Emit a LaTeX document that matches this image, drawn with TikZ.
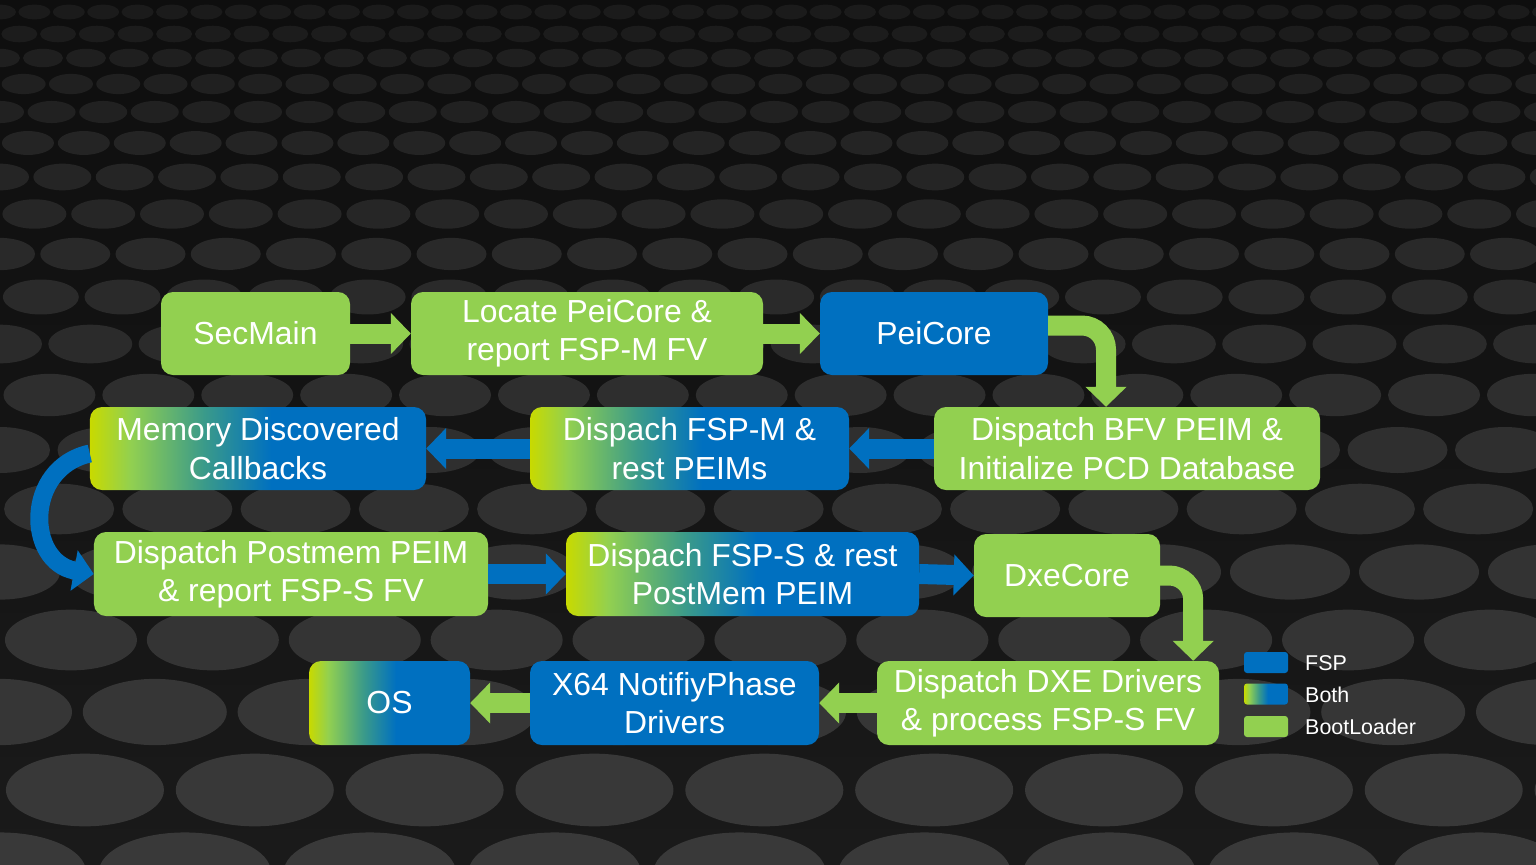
\documentclass[tikz,border=0pt]{standalone}
\usepackage{fontspec}
\setmainfont{Liberation Sans}
\usetikzlibrary{arrows.meta}
\definecolor{fspblue}{HTML}{0070C0}
\definecolor{blgreen}{HTML}{92D050}
\definecolor{ygreen}{HTML}{C8DA00}
\definecolor{tealmix}{HTML}{3A9A8A}
\definecolor{bgtop}{HTML}{0E0E0E}
\definecolor{bgbot}{HTML}{1A1A1A}
\pgfdeclarehorizontalshading{both}{100bp}{color(0bp)=(ygreen); color(25bp)=(ygreen); color(31bp)=(blgreen); color(42bp)=(tealmix); color(52bp)=(fspblue); color(100bp)=(fspblue)}
\tikzset{
  box/.style={rounded corners=12bp, minimum height=83bp, text=white, align=center, inner sep=0pt, font=\fontsize{32}{38.5}\selectfont},
  fspbox/.style={box, fill=fspblue},
  bootbox/.style={box, fill=blgreen},
  bothbox/.style={box, shading=both},
  legsq/.style={rounded corners=3bp, minimum width=44bp, minimum height=21bp, inner sep=0pt},
  legtxt/.style={anchor=west, text=white, inner sep=0pt, font=\fontsize{21.5}{24}\selectfont},
  garrow/.style={draw=blgreen, line width=20bp, -{Triangle[length=20bp 0 0, width=40bp 0 0]}},
  barrow/.style={draw=fspblue, line width=20bp, -{Triangle[length=20bp 0 0, width=40bp 0 0]}}
}
\begin{document}
\begin{tikzpicture}[x=1bp,y=-1bp]
\useasboundingbox (0,0) rectangle (1536,864);
% background
\fill[top color=bgtop, bottom color=bgbot] (0,0) rectangle (1536,864);
\begin{scope}
\clip (0,0) rectangle (1536,864);
\foreach \yy/\rr [count=\i] in {12/16,34/18,58/20,84/22,112/24,143/26,177/29,214/32,254/35,297/38,344/42,395/46,450/50,509/55,572/60,640/66,712/72,790/79,872/86}{
  \pgfmathsetmacro\dx{2.15*\rr}
  \pgfmathtruncatemacro\nn{1536/\dx+2}
  \pgfmathtruncatemacro\gg{20+\i*1.35}
  \pgfmathsetmacro\off{mod(\i,2)*\dx/2}
  \foreach \k in {0,...,\nn}{
    \fill[gray!\gg!black] (\k*\dx+\off-\dx/2,\yy) ellipse [x radius=\rr, y radius=0.46*\rr];
  }
}
\end{scope}
% nodes
\node[bootbox, minimum width=189bp] (sec) at (255.5,333.5) {SecMain};
\node[bootbox, minimum width=352bp] (loc) at (587,333.5) {Locate PeiCore \&\\report FSP-M FV};
\node[fspbox, minimum width=228bp] (pei) at (934,333.5) {PeiCore};
\node[bootbox, minimum width=386bp] (bfv) at (1127,448.5) {Dispatch BFV PEIM \&\\Initialize PCD Database};
\node[bothbox, minimum width=319bp] (fspm) at (689.5,448.5) {Dispach FSP-M \&\\rest PEIMs};
\node[bothbox, minimum width=336bp] (mdc) at (258,448.5) {Memory Discovered\\Callbacks};
\node[bootbox, minimum width=394bp, minimum height=84bp] (pm) at (291,574) {Dispatch Postmem PEIM\\\& report FSP-S FV};
\node[bothbox, minimum width=353bp, minimum height=84bp] (fsps) at (742.5,574) {Dispach FSP-S \& rest\\PostMem PEIM};
\node[bootbox, minimum width=186bp] (dxe) at (1067,575.5) {DxeCore};
\node[bootbox, minimum width=342bp, minimum height=84bp] (dxed) at (1048,703) {Dispatch DXE Drivers\\\& process FSP-S FV};
\node[fspbox, minimum width=289bp, minimum height=84bp] (x64) at (674.5,703) {X64 NotifiyPhase\\Drivers};
\node[bothbox, minimum width=161bp, minimum height=84bp] (os) at (389.5,703) {OS};
% connectors
\draw[garrow] (sec.east) -- (loc.west);
\draw[garrow] (loc.east) -- (pei.west);
\draw[garrow, rounded corners=24bp] ([yshift=8bp]pei.east) -| ([xshift=-21bp]bfv.north);
\draw[barrow] (bfv.west) -- (fspm.east);
\draw[barrow] (fspm.west) -- (mdc.east);
\draw[barrow, line width=18bp] ([yshift=-5bp]mdc.west) .. controls (24,468) and (26,562) .. (pm.west);
\draw[barrow] (pm.east) -- (fsps.west);
\draw[barrow] (fsps.east) -- (dxe.west);
\draw[garrow, rounded corners=24bp] (dxe.east) -| ([xshift=-26bp]dxed.north east);
\draw[garrow] (dxed.west) -- (x64.east);
\draw[garrow] (x64.west) -- (os.east);
% legend
\node[legsq, fill=fspblue] (lfsp) at (1266,662.5) {};
\node[legsq, shading=both] (lboth) at (1266,694) {};
\node[legsq, fill=blgreen] (lboot) at (1266,726.5) {};
\node[legtxt] (tfsp) at (1305,663) {FSP};
\node[legtxt] (tboth) at (1305,694.5) {Both};
\node[legtxt] (tboot) at (1305,726.5) {BootLoader};
\end{tikzpicture}
\end{document}
